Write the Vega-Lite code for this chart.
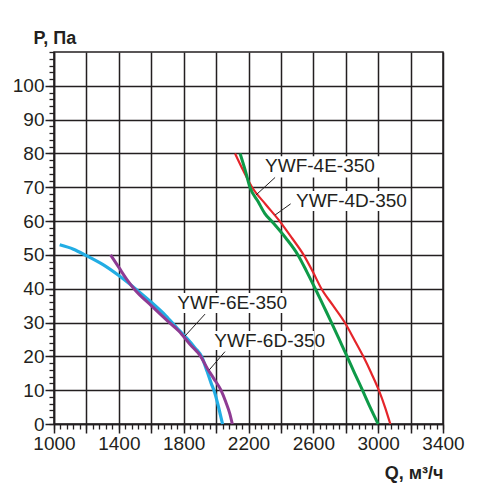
{
  "$schema": "https://vega.github.io/schema/vega-lite/v6.json",
  "autosize": {"type": "none"},
  "width": 389,
  "height": 372,
  "padding": {"left": 54, "top": 52, "right": 42, "bottom": 65},
  "background": "white",
  "config": {
    "view": {"stroke": "#231f20", "strokeWidth": 1.5},
    "font": "Liberation Sans"
  },
  "datasets": {
    "curves": [
      {"series": "YWF-6E-350", "q": 1035, "p": 53},
      {"series": "YWF-6E-350", "q": 1120, "p": 51.7},
      {"series": "YWF-6E-350", "q": 1200, "p": 49.8},
      {"series": "YWF-6E-350", "q": 1300, "p": 47.2},
      {"series": "YWF-6E-350", "q": 1400, "p": 43.9},
      {"series": "YWF-6E-350", "q": 1500, "p": 40.1},
      {"series": "YWF-6E-350", "q": 1600, "p": 36},
      {"series": "YWF-6E-350", "q": 1690, "p": 32},
      {"series": "YWF-6E-350", "q": 1760, "p": 28.3},
      {"series": "YWF-6E-350", "q": 1820, "p": 25.3},
      {"series": "YWF-6E-350", "q": 1870, "p": 22.5},
      {"series": "YWF-6E-350", "q": 1912, "p": 19.8},
      {"series": "YWF-6E-350", "q": 1945, "p": 15.5},
      {"series": "YWF-6E-350", "q": 1970, "p": 12},
      {"series": "YWF-6E-350", "q": 1990, "p": 9.5},
      {"series": "YWF-6E-350", "q": 2010, "p": 6},
      {"series": "YWF-6E-350", "q": 2025, "p": 3},
      {"series": "YWF-6E-350", "q": 2040, "p": 0},
      {"series": "YWF-6D-350", "q": 1349, "p": 50},
      {"series": "YWF-6D-350", "q": 1400, "p": 46.3},
      {"series": "YWF-6D-350", "q": 1450, "p": 42.7},
      {"series": "YWF-6D-350", "q": 1500, "p": 39.6},
      {"series": "YWF-6D-350", "q": 1600, "p": 35},
      {"series": "YWF-6D-350", "q": 1700, "p": 30.5},
      {"series": "YWF-6D-350", "q": 1770, "p": 27.5},
      {"series": "YWF-6D-350", "q": 1840, "p": 23.5},
      {"series": "YWF-6D-350", "q": 1905, "p": 20},
      {"series": "YWF-6D-350", "q": 1945, "p": 16.5},
      {"series": "YWF-6D-350", "q": 1985, "p": 13.5},
      {"series": "YWF-6D-350", "q": 2030, "p": 10},
      {"series": "YWF-6D-350", "q": 2060, "p": 6.5},
      {"series": "YWF-6D-350", "q": 2085, "p": 3},
      {"series": "YWF-6D-350", "q": 2100, "p": 0},
      {"series": "YWF-4D-350", "q": 2117, "p": 80},
      {"series": "YWF-4D-350", "q": 2167, "p": 75},
      {"series": "YWF-4D-350", "q": 2222, "p": 70},
      {"series": "YWF-4D-350", "q": 2305, "p": 65},
      {"series": "YWF-4D-350", "q": 2392, "p": 60},
      {"series": "YWF-4D-350", "q": 2468, "p": 55},
      {"series": "YWF-4D-350", "q": 2540, "p": 50},
      {"series": "YWF-4D-350", "q": 2597, "p": 45},
      {"series": "YWF-4D-350", "q": 2650, "p": 40},
      {"series": "YWF-4D-350", "q": 2722, "p": 35},
      {"series": "YWF-4D-350", "q": 2794, "p": 30},
      {"series": "YWF-4D-350", "q": 2852, "p": 25},
      {"series": "YWF-4D-350", "q": 2908, "p": 20},
      {"series": "YWF-4D-350", "q": 2958, "p": 15},
      {"series": "YWF-4D-350", "q": 3004, "p": 10},
      {"series": "YWF-4D-350", "q": 3042, "p": 5},
      {"series": "YWF-4D-350", "q": 3075, "p": 0},
      {"series": "YWF-4E-350", "q": 2148, "p": 80},
      {"series": "YWF-4E-350", "q": 2180, "p": 75},
      {"series": "YWF-4E-350", "q": 2209, "p": 70},
      {"series": "YWF-4E-350", "q": 2260, "p": 65.7},
      {"series": "YWF-4E-350", "q": 2300, "p": 62.3},
      {"series": "YWF-4E-350", "q": 2350, "p": 59.6},
      {"series": "YWF-4E-350", "q": 2430, "p": 55},
      {"series": "YWF-4E-350", "q": 2505, "p": 50},
      {"series": "YWF-4E-350", "q": 2560, "p": 45},
      {"series": "YWF-4E-350", "q": 2612, "p": 40},
      {"series": "YWF-4E-350", "q": 2662, "p": 35},
      {"series": "YWF-4E-350", "q": 2712, "p": 30},
      {"series": "YWF-4E-350", "q": 2760, "p": 25},
      {"series": "YWF-4E-350", "q": 2808, "p": 20},
      {"series": "YWF-4E-350", "q": 2855, "p": 15},
      {"series": "YWF-4E-350", "q": 2903, "p": 10},
      {"series": "YWF-4E-350", "q": 2950, "p": 5},
      {"series": "YWF-4E-350", "q": 3000, "p": 0}
    ],
    "labels": [
      {"name": "YWF-4E-350", "q": 2302, "p": 76.2, "q1": 2277, "q2": 3018, "p1": 72.9, "p2": 79.2, "lq1": 2364, "lp1": 72.9, "lq2": 2246, "lp2": 67.7},
      {"name": "YWF-4D-350", "q": 2493, "p": 65.9, "q1": 2481, "q2": 3197, "p1": 63, "p2": 68.9, "lq1": 2460, "lp1": 65.1, "lq2": 2364, "lp2": 61.8},
      {"name": "YWF-6E-350", "q": 1761, "p": 35.7, "q1": 1747, "q2": 2462, "p1": 32.8, "p2": 38.7, "lq1": 1932, "lp1": 32.5, "lq2": 1808, "lp2": 26},
      {"name": "YWF-6D-350", "q": 1989, "p": 24.6, "q1": 1975, "q2": 2604, "p1": 21.9, "p2": 27.5, "lq1": 2055, "lp1": 21.4, "lq2": 1958, "lp2": 16}
    ]
  },
  "resolve": {"axis": {"x": "independent", "y": "independent"}},
  "layer": [
    {
      "data": {"name": "curves"},
      "transform": [{"filter": "datum.series == 'YWF-4D-350'"}],
      "mark": {"type": "line", "color": "#e5252a", "strokeWidth": 2.2, "interpolate": "monotone"},
      "encoding": {
        "x": {
          "field": "q", "type": "quantitative",
          "scale": {"domain": [1000, 3400], "nice": false, "zero": false},
          "axis": {
            "orient": "bottom",
            "values": [1000, 1200, 1400, 1600, 1800, 2000, 2200, 2400, 2600, 2800, 3000, 3200, 3400],
            "format": "d",
            "labelExpr": "(datum.value - 1000) % 400 == 0 ? datum.label : ''",
            "grid": true, "gridColor": "#231f20", "gridWidth": 1.5, "gridOpacity": 1,
            "domain": true, "domainColor": "#231f20", "domainWidth": 1.5,
            "ticks": true, "tickColor": "#231f20", "tickWidth": 1.5, "tickSize": 9,
            "labelFont": "Liberation Sans", "labelFontSize": 19, "labelColor": "#231f20",
            "labelPadding": 1, "labelFlush": false, "labelOverlap": false,
            "title": "Q, м³/ч", "titleFont": "Liberation Sans", "titleFontSize": 18,
            "titleFontWeight": "bold", "titleColor": "#231f20",
            "titleAlign": "right", "titleAnchor": null, "titleX": 389, "titleY": 54,
            "titleBaseline": "alphabetic"
          }
        },
        "y": {
          "field": "p", "type": "quantitative",
          "scale": {"domain": [0, 110], "nice": false, "zero": false},
          "axis": {
            "orient": "left",
            "values": [0, 10, 20, 30, 40, 50, 60, 70, 80, 90, 100],
            "format": "d",
            "grid": true, "gridColor": "#231f20", "gridWidth": 1.5, "gridOpacity": 1,
            "domain": true, "domainColor": "#231f20", "domainWidth": 1.5,
            "ticks": true, "tickColor": "#231f20", "tickWidth": 1.5, "tickSize": 9,
            "labelFont": "Liberation Sans", "labelFontSize": 19, "labelColor": "#231f20",
            "labelPadding": 1, "labelFlush": false, "labelOverlap": false,
            "title": "P, Па", "titleFont": "Liberation Sans", "titleFontSize": 18,
            "titleFontWeight": "bold", "titleColor": "#231f20", "titleAngle": 0,
            "titleAlign": "left", "titleAnchor": null, "titleX": -21, "titleY": -9,
            "titleBaseline": "alphabetic"
          }
        }
      }
    },
    {
      "data": {"name": "curves"},
      "transform": [{"filter": "datum.series == 'YWF-4E-350'"}],
      "mark": {"type": "line", "color": "#0e9a48", "strokeWidth": 3, "interpolate": "monotone"},
      "encoding": {
        "x": {"field": "q", "type": "quantitative", "scale": {"domain": [1000, 3400], "nice": false, "zero": false}, "axis": null},
        "y": {"field": "p", "type": "quantitative", "scale": {"domain": [0, 110], "nice": false, "zero": false}, "axis": null}
      }
    },
    {
      "data": {"name": "curves"},
      "transform": [{"filter": "datum.series == 'YWF-6E-350'"}],
      "mark": {"type": "line", "color": "#22ade4", "strokeWidth": 3.2, "interpolate": "monotone"},
      "encoding": {
        "x": {"field": "q", "type": "quantitative", "scale": {"domain": [1000, 3400], "nice": false, "zero": false}, "axis": null},
        "y": {"field": "p", "type": "quantitative", "scale": {"domain": [0, 110], "nice": false, "zero": false}, "axis": null}
      }
    },
    {
      "data": {"name": "curves"},
      "transform": [{"filter": "datum.series == 'YWF-6D-350'"}],
      "mark": {"type": "line", "color": "#8e3b93", "strokeWidth": 3, "interpolate": "monotone"},
      "encoding": {
        "x": {"field": "q", "type": "quantitative", "scale": {"domain": [1000, 3400], "nice": false, "zero": false}, "axis": null},
        "y": {"field": "p", "type": "quantitative", "scale": {"domain": [0, 110], "nice": false, "zero": false}, "axis": null}
      }
    },
    {
      "data": {"name": "labels"},
      "mark": {"type": "rect", "color": "white", "opacity": 1},
      "encoding": {
        "x": {
          "field": "q1", "type": "quantitative",
          "scale": {"domain": [1000, 3400], "nice": false, "zero": false},
          "axis": {
            "orient": "bottom",
            "values": [1000,1040,1080,1120,1160,1200,1240,1280,1320,1360,1400,1440,1480,1520,1560,1600,1640,1680,1720,1760,1800,1840,1880,1920,1960,2000,2040,2080,2120,2160,2200,2240,2280,2320,2360,2400,2440,2480,2520,2560,2600,2640,2680,2720,2760,2800,2840,2880,2920,2960,3000,3040,3080,3120,3160,3200,3240,3280,3320,3360,3400],
            "grid": false, "domain": false, "labels": false,
            "ticks": true, "tickColor": "#231f20", "tickWidth": 1.3, "tickSize": 5,
            "title": null
          }
        },
        "x2": {"field": "q2"},
        "y": {
          "field": "p1", "type": "quantitative",
          "scale": {"domain": [0, 110], "nice": false, "zero": false},
          "axis": {
            "orient": "left",
            "values": [0,2,4,6,8,10,12,14,16,18,20,22,24,26,28,30,32,34,36,38,40,42,44,46,48,50,52,54,56,58,60,62,64,66,68,70,72,74,76,78,80,82,84,86,88,90,92,94,96,98,100,102,104,106,108,110],
            "grid": false, "domain": false, "labels": false,
            "ticks": true, "tickColor": "#231f20", "tickWidth": 1.3, "tickSize": 5,
            "title": null
          }
        },
        "y2": {"field": "p2"}
      }
    },
    {
      "data": {"name": "labels"},
      "mark": {"type": "rule", "color": "#231f20", "strokeWidth": 1},
      "encoding": {
        "x": {"field": "lq1", "type": "quantitative", "scale": {"domain": [1000, 3400], "nice": false, "zero": false}, "axis": null},
        "y": {"field": "lp1", "type": "quantitative", "scale": {"domain": [0, 110], "nice": false, "zero": false}, "axis": null},
        "x2": {"field": "lq2"},
        "y2": {"field": "lp2"}
      }
    },
    {
      "data": {"name": "labels"},
      "mark": {"type": "text", "align": "left", "baseline": "middle", "font": "Liberation Sans", "fontSize": 19, "color": "#231f20"},
      "encoding": {
        "x": {"field": "q", "type": "quantitative", "scale": {"domain": [1000, 3400], "nice": false, "zero": false}, "axis": null},
        "y": {"field": "p", "type": "quantitative", "scale": {"domain": [0, 110], "nice": false, "zero": false}, "axis": null},
        "text": {"field": "name", "type": "nominal"}
      }
    }
  ]
}
